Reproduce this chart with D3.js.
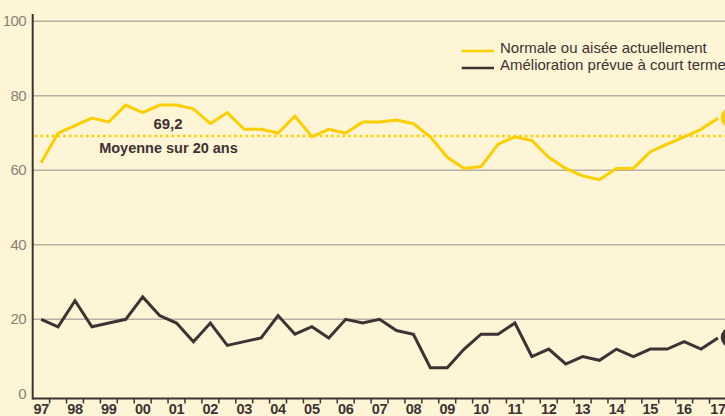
<!DOCTYPE html>
<html><head><meta charset="utf-8">
<script src="https://cdn.jsdelivr.net/npm/d3@7/dist/d3.min.js"></script>
<style>html,body{margin:0;padding:0;background:#fdf5d6;overflow:hidden}
text{font-family:"Liberation Sans",Arial,Helvetica,sans-serif}</style>
</head><body><svg id="c" width="725" height="416"></svg>
<script>
// ---- data ----
const years = ["97","98","99","00","01","02","03","04","05","06","07","08","09","10","11","12","13","14","15","16","17"];
const periods = years.flatMap(y => [y + "-1", y + "-2"]).slice(0, 41);
const normale = [62, 70, 72, 74, 73, 77.5, 75.5, 77.5, 77.5, 76.5, 72.5, 75.5, 71, 71, 70, 74.5, 69, 71, 70, 73, 73, 73.5, 72.5, 69, 63.5, 60.5, 61, 67, 69, 68, 63.5, 60.5, 58.5, 57.5, 60.5, 60.5, 65, 67, 69, 71, 74];
const amelioration = [20, 18, 25, 18, 19, 20, 26, 21, 19, 14, 19, 13, 14, 15, 21, 16, 18, 15, 20, 19, 20, 17, 16, 7, 7, 12, 16, 16, 19, 10, 12, 8, 10, 9, 12, 10, 12, 12, 14, 12, 15];
const moyenne = 69.2;
const moyenneLabel = "69,2";
const moyenneText = "Moyenne sur 20 ans";
const yTicks = [0, 20, 40, 60, 80, 100];
const legendLabels = ["Normale ou aisée actuellement", "Amélioration prévue à court terme"];

// ---- style ----
const YELLOW = "#fdcf00", DARK = "#3e3232", GRID = "#b9afa4", TICKTXT = "#8b8178";

const svg = d3.select("#c");
const x0 = 32.7, step = 16.92;
const x = d3.scaleBand().domain(periods).range([x0, x0 + step * periods.length]).paddingInner(0).paddingOuter(0);
const y = d3.scaleLinear().domain([0, 100]).range([393.8, 21.3]);
const cx = p => x(p) + x.bandwidth() / 2;

// gridlines
svg.append("g").selectAll("line").data(yTicks.filter(t => t > 0)).join("line")
  .attr("x1", x0).attr("x2", 725).attr("y1", d => y(d)).attr("y2", d => y(d))
  .attr("stroke", GRID).attr("stroke-width", 1.5);

// y axis labels
const ya = svg.append("g").attr("transform", `translate(${x0 - 6.5},0)`)
  .call(d3.axisLeft(y).tickValues(yTicks).tickSize(0).tickPadding(0));
ya.select(".domain").remove();
ya.selectAll("text").attr("fill", TICKTXT).attr("font-size", 15).attr("dy", "0.3em")
  .attr("letter-spacing", "-0.5px");

// y axis line
svg.append("line").attr("x1", x0).attr("x2", x0).attr("y1", 14).attr("y2", 399.5)
  .attr("stroke", DARK).attr("stroke-width", 2);

// x axis line
const axY = 398.6;
svg.append("line").attr("x1", x0).attr("x2", 725).attr("y1", axY).attr("y2", axY)
  .attr("stroke", DARK).attr("stroke-width", 2);
// ticks at period boundaries
svg.append("g").selectAll("line").data(periods.slice(1)).join("line")
  .attr("x1", d => x(d)).attr("x2", d => x(d)).attr("y1", axY).attr("y2", 403.5)
  .attr("stroke", DARK).attr("stroke-width", 1.5);

// x labels (first period of each year)
const xa = svg.append("g").attr("transform", `translate(0,${axY})`)
  .call(d3.axisBottom(x).tickValues(periods.filter(p => p.endsWith("-1"))).tickSize(0).tickPadding(0)
    .tickFormat(p => p.split("-")[0]));
xa.select(".domain").remove();
xa.selectAll("text").attr("fill", DARK).attr("font-size", 14.5).attr("font-weight", "bold")
  .attr("dy", null).attr("y", 15.8).attr("letter-spacing", "-0.3px");

// mean dotted line
svg.append("line").attr("x1", x0 + 2).attr("x2", 725).attr("y1", y(moyenne)).attr("y2", y(moyenne))
  .attr("stroke", YELLOW).attr("stroke-width", 2.6).attr("stroke-dasharray", "2.6,3.1");
svg.append("text").attr("x", 168).attr("y", y(moyenne) - 7).attr("text-anchor", "middle")
  .attr("font-size", 15).attr("font-weight", "bold").attr("fill", DARK).text(moyenneLabel);
svg.append("text").attr("x", 168.5).attr("y", y(moyenne) + 16.5).attr("text-anchor", "middle")
  .attr("font-size", 14.5).attr("font-weight", "bold").attr("fill", DARK).text(moyenneText);

// series lines
const line = d3.line().x((d, i) => cx(periods[i])).y(d => y(d));
const series = [{v: normale, c: YELLOW}, {v: amelioration, c: DARK}];
series.forEach(s => {
  svg.append("path").datum(s.v).attr("d", line).attr("fill", "none")
    .attr("stroke", s.c).attr("stroke-width", 3).attr("stroke-linejoin", "miter");
  const last = s.v.length - 1;
  svg.append("circle").attr("cx", cx(periods[last]) + 13).attr("cy", y(s.v[last]) - 0.5).attr("r", 10.2)
    .attr("fill", s.c);
});

// legend
const lg = svg.append("g");
legendLabels.forEach((t, i) => {
  const ly = 51 + i * 17;
  lg.append("line").attr("x1", 461.7).attr("x2", 494).attr("y1", ly).attr("y2", ly)
    .attr("stroke", series[i].c).attr("stroke-width", 2.5);
  lg.append("text").attr("x", 500).attr("y", ly + 1.5).attr("font-size", 15).attr("fill", DARK)
    .text(t);
});
</script></body></html>
